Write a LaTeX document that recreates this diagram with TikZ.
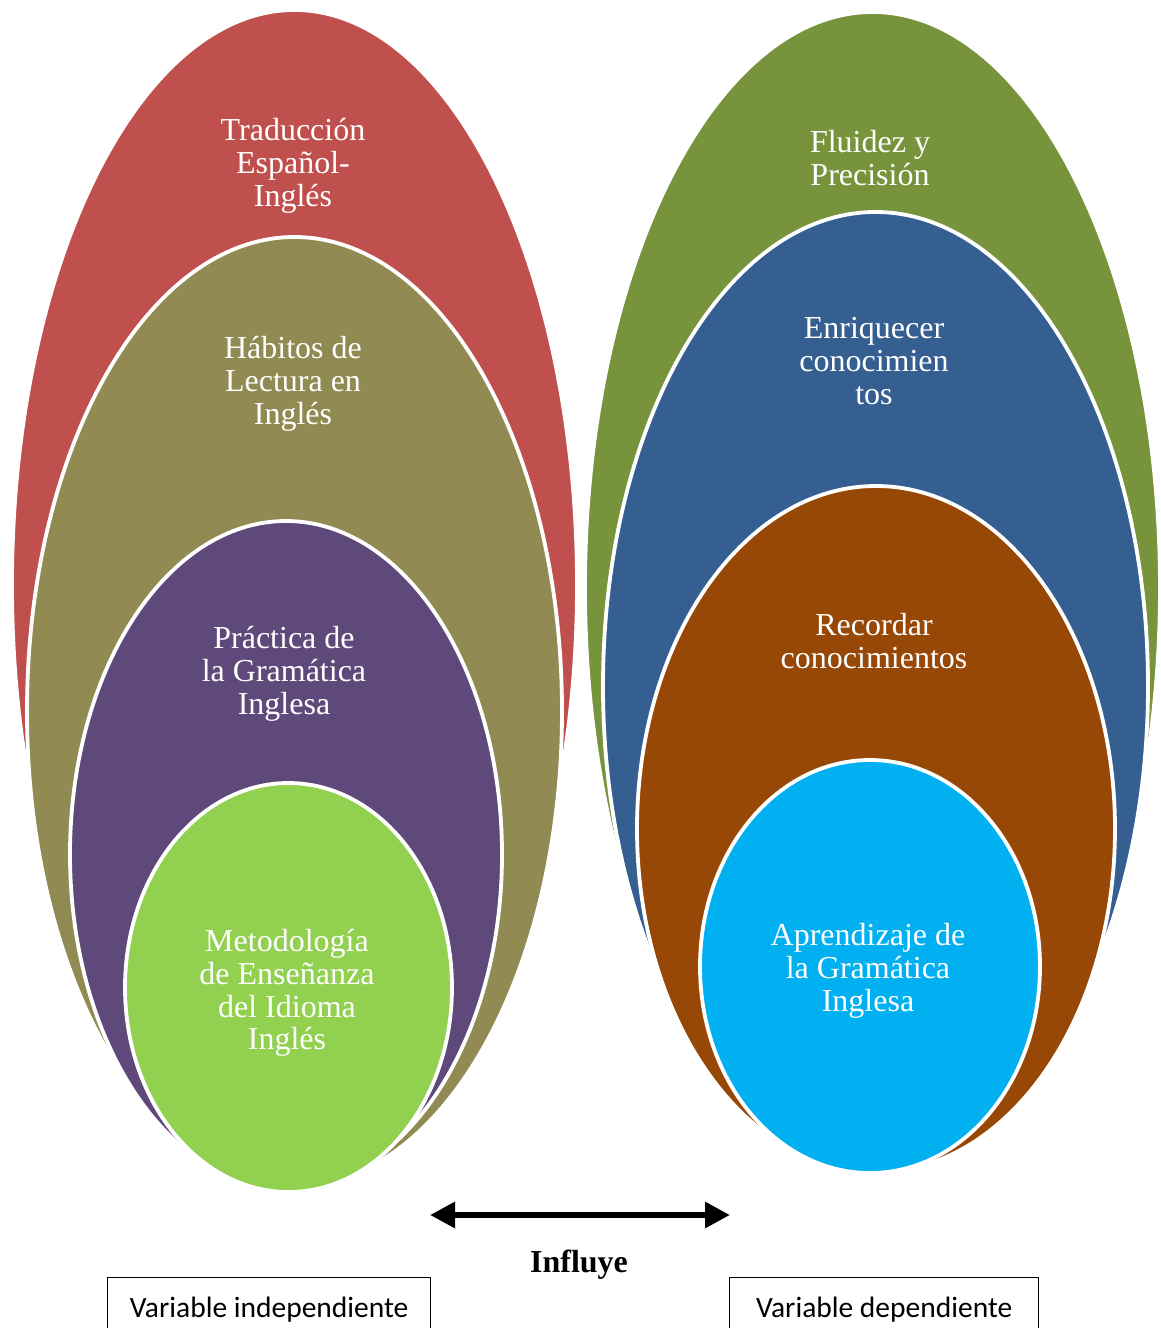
\documentclass[tikz,border=0pt]{standalone}
\usepackage{fontspec}
\setmainfont{Liberation Serif}
\newfontfamily\boxfont{Carlito}
\usetikzlibrary{arrows.meta}
\definecolor{cRed}{HTML}{C0504D}
\definecolor{cOlive}{HTML}{928A53}
\definecolor{cPurple}{HTML}{5F497A}
\definecolor{cLime}{HTML}{92D050}
\definecolor{cGreen}{HTML}{77933C}
\definecolor{cBlue}{HTML}{365F91}
\definecolor{cBrown}{HTML}{974806}
\definecolor{cCyan}{HTML}{00B0F0}
\begin{document}
\begin{tikzpicture}[x=1pt,y=-1pt,
  ring/.style={draw=white, line width=3.8pt},
  lbl/.style={text=white, align=center, font=\fontsize{32}{32.8}\selectfont, inner sep=0pt},
  varbox/.style={draw=black, line width=1.3pt, minimum width=#1, minimum height=64pt,
                 anchor=north west, font=\boxfont\fontsize{29.5}{32}\selectfont, inner sep=0pt},
  infl/.style={font=\bfseries\fontsize{32}{34}\selectfont, inner sep=0pt},
  dblarrow/.style={line width=6pt, {Triangle[length=25pt,width=25pt]}-{Triangle[length=25pt,width=25pt]}}
]
\useasboundingbox (0,0) rectangle (1161,1328);
\clip (0,0) rectangle (1161,1328);

% left stack
\path[ring, fill=cRed]    (294.5,585)   ellipse [x radius=282.5, y radius=575];
\path[ring, fill=cOlive]  (294.5,711.5) ellipse [x radius=267.5, y radius=474.5];
\path[ring, fill=cPurple] (286,854.5)   ellipse [x radius=216,   y radius=333.5];
\path[ring, fill=cLime]   (288.5,987.5) ellipse [x radius=163.5, y radius=204.5];

% right stack
\path[ring, fill=cGreen]  (872.5,588)   ellipse [x radius=287.5, y radius=576];
\path[ring, fill=cBlue]   (875.5,686)   ellipse [x radius=272.5, y radius=474];
\path[ring, fill=cBrown]  (876,829)     ellipse [x radius=239,   y radius=343];
\path[ring, fill=cCyan]   (870,966.5)   ellipse [x radius=170,   y radius=206.5];

% labels left
\node[lbl] (t1) at (293,166) {Traducción\\Español-\\Inglés};
\node[lbl] (t2) at (293,384) {Hábitos de\\Lectura en\\Inglés};
\node[lbl] (t3) at (284,674) {Práctica de\\la Gramática\\Inglesa};
\node[lbl] (t4) at (287,993) {Metodología\\de Enseñanza\\del Idioma\\Inglés};

% labels right
\node[lbl] (r1) at (870,158) {Fluidez y\\Precisión};
\node[lbl] (r2) at (874,361) {Enriquecer\\conocimien\\tos};
\node[lbl] (r3) at (874,641) {Recordar\\conocimientos};
\node[lbl] (r4) at (868,971) {Aprendizaje de\\la Gramática\\Inglesa};

% arrow
\coordinate (al) at (430,1215);
\coordinate (ar) at (730,1215);
\draw[dblarrow] (al) -- (ar);
\node[infl] (inf) at (579,1265) {Influye};

% variable boxes
\node[varbox=323pt] (vi) at (107,1277) {Variable independiente};
\node[varbox=309pt] (vd) at (729,1277) {Variable dependiente};
\end{tikzpicture}
\end{document}
